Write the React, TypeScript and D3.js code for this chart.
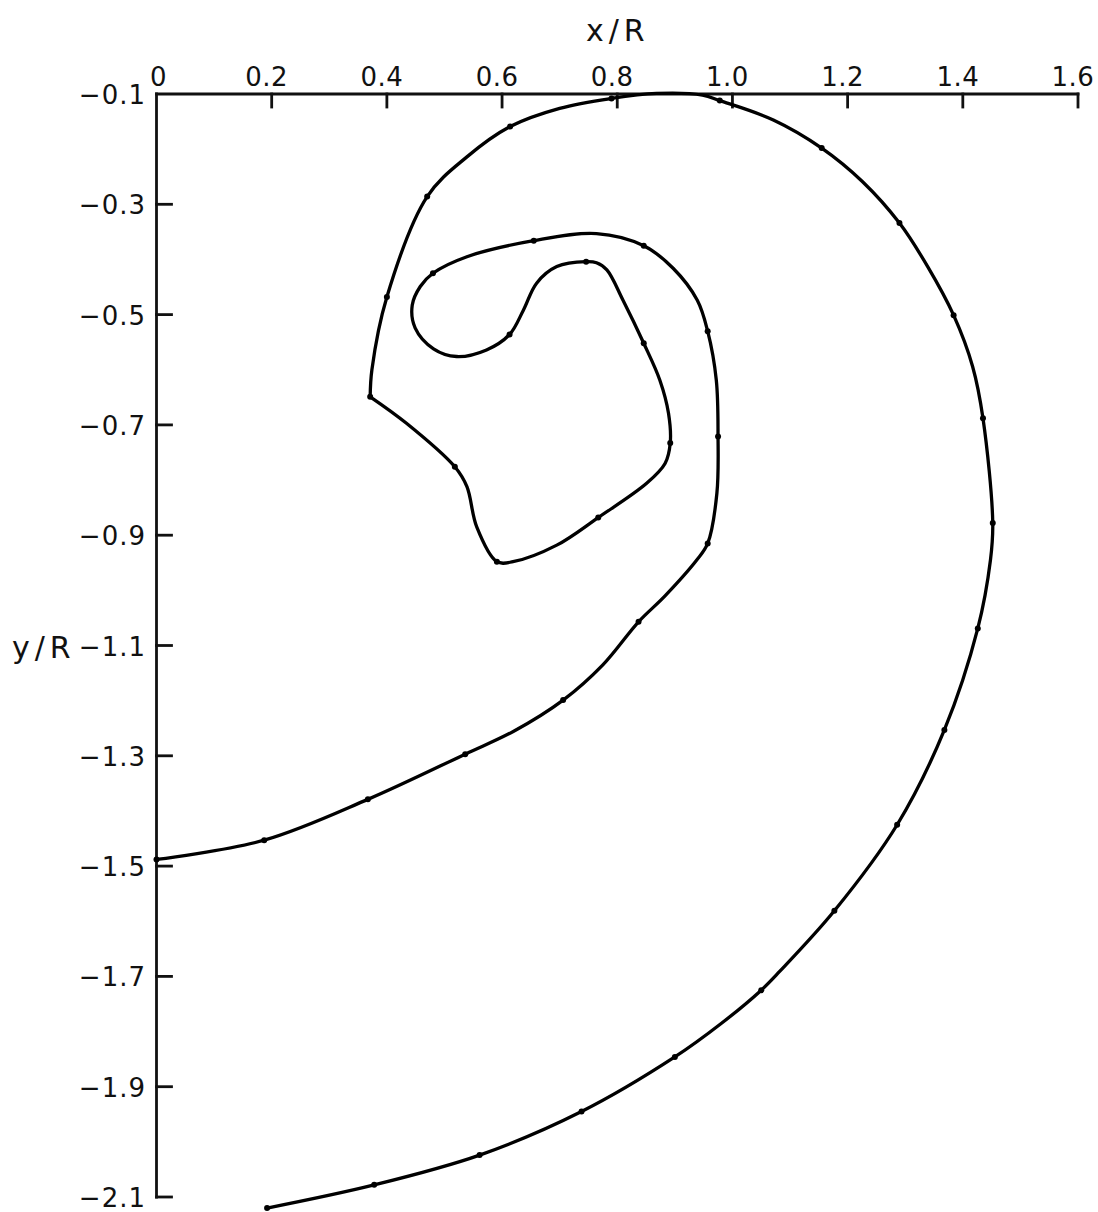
import React from "react";
import * as d3 from "d3";

// Axis tick values
const xTickValues = [0, 0.2, 0.4, 0.6, 0.8, 1.0, 1.2, 1.4, 1.6];
const xTickLabels = ["0", "0.2", "0.4", "0.6", "0.8", "1.0", "1.2", "1.4", "1.6"];
const yTickValues = [-0.1, -0.3, -0.5, -0.7, -0.9, -1.1, -1.3, -1.5, -1.7, -1.9, -2.1];
const yTickLabels = ["−0.1", "−0.3", "−0.5", "−0.7", "−0.9", "−1.1", "−1.3", "−1.5", "−1.7", "−1.9", "−2.1"];

// Trajectory in x/R, y/R (ordered from the start point at the bottom)
const trajX = [
  0.192, 0.378, 0.561, 0.738, 0.9, 0.981, 1.05, 1.082, 1.177, 1.286,
  1.368, 1.426, 1.448, 1.452, 1.435, 1.417, 1.384, 1.339, 1.29, 1.226,
  1.155, 1.071, 0.978, 0.948, 0.868, 0.79, 0.7, 0.614, 0.539, 0.47,
  0.4, 0.374, 0.371, 0.434, 0.518, 0.539, 0.556, 0.591, 0.619, 0.695,
  0.767, 0.851, 0.883, 0.892, 0.889, 0.874, 0.846, 0.81, 0.782, 0.764,
  0.746, 0.695, 0.66, 0.637, 0.613, 0.573, 0.521, 0.481, 0.449, 0.444,
  0.458, 0.48, 0.539, 0.655, 0.764, 0.846, 0.897, 0.939, 0.957, 0.972,
  0.975, 0.973, 0.957, 0.938, 0.883, 0.837, 0.775, 0.706, 0.621, 0.536,
  0.367, 0.187, 0.0,
];
const trajY = [
  -2.12, -2.078, -2.024, -1.945, -1.846, -1.785, -1.725, -1.691, -1.581, -1.425,
  -1.253, -1.069, -0.945, -0.878, -0.688, -0.594, -0.501, -0.413, -0.334, -0.259,
  -0.198, -0.147, -0.112, -0.102, -0.099, -0.108, -0.126, -0.159, -0.214, -0.286,
  -0.468, -0.6, -0.649, -0.697, -0.776, -0.812, -0.885, -0.948, -0.948, -0.918,
  -0.868, -0.806, -0.77, -0.733, -0.679, -0.619, -0.552, -0.474, -0.419, -0.406,
  -0.404, -0.413, -0.443, -0.492, -0.536, -0.564, -0.576, -0.562, -0.524, -0.483,
  -0.449, -0.425, -0.395, -0.366, -0.353, -0.375, -0.416, -0.474, -0.53, -0.619,
  -0.721, -0.824, -0.915, -0.945, -1.01, -1.057, -1.135, -1.199, -1.255, -1.297,
  -1.379, -1.453, -1.488,
];

// Indices of the computed (marked) points along the trajectory
const markedIdx = [
  0, 1, 2, 3, 4, 6, 8, 9, 10, 11, 13, 14, 16, 18, 20, 22, 25, 27, 29, 30,
  32, 34, 37, 40, 43, 46, 50, 54, 61, 63, 65, 68, 70, 72, 75, 77, 79, 80, 81, 82,
];

// Index where the trajectory turns sharply
const cornerIdx = 32;

const W = 1098;
const H = 1212;

export default function App() {
  const x = d3.scaleLinear().domain([0, 1.6]).range([156.5, 1078]);
  const y = d3.scaleLinear().domain([-0.1, -2.1]).range([94, 1197]);

  const pts: [number, number][] = trajX.map((v, i) => [v, trajY[i]]);
  const line = d3
    .line<[number, number]>()
    .x((d) => x(d[0]))
    .y((d) => y(d[1]))
    .curve(d3.curveCatmullRom.alpha(0.5));

  const seg1 = line(pts.slice(0, cornerIdx + 1)) || "";
  const seg2 = line(pts.slice(cornerIdx)) || "";

  const font = "'DejaVu Sans', sans-serif";
  const x0 = x(0);
  const yTop = y(-0.1);

  return (
    <svg
      width={W}
      height={H}
      style={{ position: "absolute", left: 0, top: 0, background: "#fff" }}
    >
      <rect width={W} height={H} fill="#fff" />
      {/* axes */}
      <g stroke="#111" strokeWidth={2.8} fill="none" strokeLinecap="square">
        <line x1={x0} y1={yTop} x2={x(1.6)} y2={yTop} />
        <line x1={x0} y1={yTop} x2={x0} y2={y(-2.1)} />
        {xTickValues.slice(1).map((t) => (
          <line key={"xt" + t} x1={x(t)} y1={yTop} x2={x(t)} y2={yTop + 13} />
        ))}
        {yTickValues.slice(1).map((t) => (
          <line key={"yt" + t} x1={x0} y1={y(t)} x2={x0 + 15} y2={y(t)} />
        ))}
      </g>
      {/* tick labels */}
      <g fontFamily={font} fontSize={26} fill="#111">
        {xTickValues.map((t, i) => (
          <text
            key={"xl" + t}
            x={t === 0 ? x(t) + 2 : x(t) - 5}
            y={86}
            textAnchor="middle"
            letterSpacing={0.5}
          >
            {xTickLabels[i]}
          </text>
        ))}
        {yTickValues.map((t, i) => (
          <text key={"yl" + t} x={146} y={y(t) + 10} textAnchor="end" letterSpacing={1}>
            {yTickLabels[i]}
          </text>
        ))}
      </g>
      {/* axis titles */}
      <g fontFamily={font} fontSize={30} fill="#111" letterSpacing={5}>
        <text x={586} y={41}>x/R</text>
        <text x={12} y={658}>y/R</text>
      </g>
      {/* trajectory */}
      <g fill="none" stroke="#000" strokeWidth={3.3} strokeLinejoin="round" strokeLinecap="round">
        <path d={seg1} />
        <path d={seg2} />
      </g>
      <g fill="#000">
        {markedIdx.map((i) => (
          <circle key={"m" + i} cx={x(trajX[i])} cy={y(trajY[i])} r={3} />
        ))}
      </g>
    </svg>
  );
}
